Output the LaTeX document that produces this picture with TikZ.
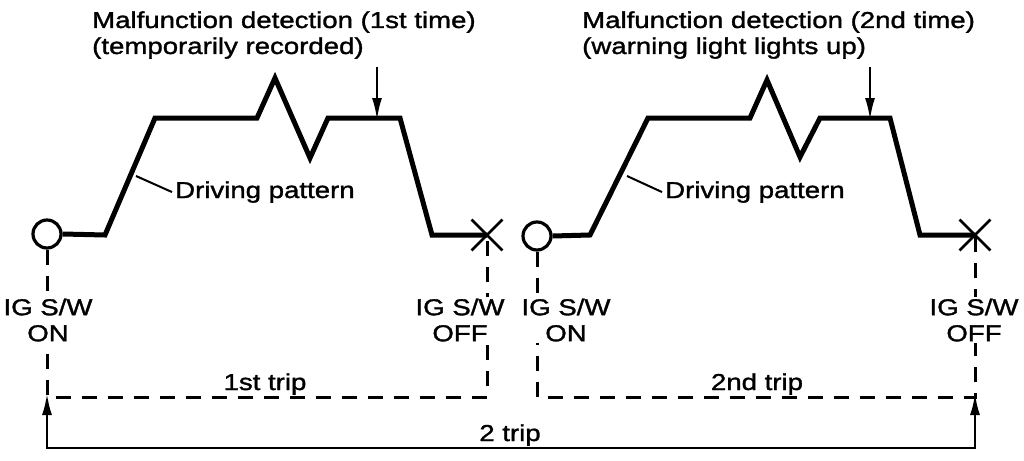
\documentclass[tikz,border=0pt]{standalone}
\usepackage{fontspec}
\setmainfont[FakeStretch=1.2,FakeBold=1.4]{Liberation Sans}
\usetikzlibrary{arrows.meta,shapes.misc}

\begin{document}
\begin{tikzpicture}[x=1pt,y=-1pt, >={Latex[length=22pt,width=10pt]},
  lbl/.style={font=\fontsize{23}{26}\selectfont, inner sep=0pt, align=center},
  patt/.style={line width=5pt, line join=miter},
  swon/.style={circle, draw, line width=3.2pt, minimum size=28pt, inner sep=0pt},
  swoff/.style={cross out, draw, line width=2.8pt, minimum size=28pt, inner sep=0pt},
  tripline/.style={line width=3pt, dash pattern=on 15pt off 11pt},
  detect/.style={->, line width=2.5pt},
  lead/.style={line width=2pt}]
  \useasboundingbox (0,0) rectangle (1024,460);

  % Switch points
  \node[swon]  (on1)  at (47,234)  {};
  \node[swoff] (off1) at (487,235) {};
  \node[swon]  (on2)  at (537,236) {};
  \node[swoff] (off2) at (975,235) {};

  % 1st driving pattern
  \coordinate (p1a) at (105,235);
  \coordinate (p1b) at (155,118);
  \coordinate (p1c) at (257,118);
  \coordinate (p1d) at (275,78);
  \coordinate (p1e) at (310,158);
  \coordinate (p1f) at (328,118);
  \coordinate (p1g) at (400,118);
  \coordinate (p1h) at (432,235);
  \draw[patt] (on1.east) -- (p1a) -- (p1b) -- (p1c) -- (p1d) -- (p1e)
    -- (p1f) -- (p1g) -- (p1h) -- (off1.center);

  % 2nd driving pattern
  \coordinate (p2a) at (590,235);
  \coordinate (p2b) at (648,118);
  \coordinate (p2c) at (750,118);
  \coordinate (p2d) at (767,80);
  \coordinate (p2e) at (800,157);
  \coordinate (p2f) at (820,118);
  \coordinate (p2g) at (890,118);
  \coordinate (p2h) at (920,235);
  \draw[patt] (on2.east) -- (p2a) -- (p2b) -- (p2c) -- (p2d) -- (p2e)
    -- (p2f) -- (p2g) -- (p2h) -- (off2.center);

  % Malfunction detection
  \node[lbl, align=left, anchor=base west] (det1) at (92,54)
    {Malfunction detection (1st time)\\(temporarily recorded)};
  \node[lbl, align=left, anchor=base west] (det2) at (582,54)
    {Malfunction detection (2nd time)\\(warning light lights up)};
  \coordinate (d1top) at (377,67);
  \coordinate (d2top) at (870,67);
  \draw[detect] (d1top) -- ([yshift=-2pt]d1top |- p1g);
  \draw[detect] (d2top) -- ([yshift=-2pt]d2top |- p2g);

  % Driving pattern labels
  \node[lbl, anchor=base west] (drv1) at (175,198) {Driving pattern};
  \node[lbl, anchor=base west] (drv2) at (665,198) {Driving pattern};
  \coordinate (lk1) at (136,176);
  \coordinate (lk2) at (627,176);
  \draw[lead] (lk1) -- ([xshift=-3pt]drv1.west);
  \draw[lead] (lk2) -- ([xshift=-3pt]drv2.west);

  % Trips
  \coordinate (t1a) at (47,397);
  \coordinate (t1b) at (487,397);
  \coordinate (t2a) at (537,397);
  \coordinate (t2b) at (975,397);
  \draw[tripline] (on1.south) -- (t1a) -- (t1b) -- (off1.center);
  \draw[tripline] (on2.south) -- (t2a) -- (t2b) -- (off2.center);

  % Switch labels
  \node[lbl, fill=white, inner sep=2pt] (onlbl1)  at (48,320)  {IG S/W\\ON};
  \node[lbl, fill=white, inner sep=2pt] (offlbl1) at (460,320) {IG S/W\\OFF};
  \node[lbl, fill=white, inner sep=2pt] (onlbl2)  at (566,320) {IG S/W\\ON};
  \node[lbl, fill=white, inner sep=2pt] (offlbl2) at (974,320) {IG S/W\\OFF};
  \node[lbl, anchor=base] (trip1) at (265,390) {1st trip};
  \node[lbl, anchor=base] (trip2) at (757,390) {2nd trip};

  % Whole span
  \coordinate (b1) at (47,448);
  \coordinate (b2) at (975,448);
  \draw[<->, line width=2.8pt]
    ([yshift=4pt]t1a) -- (b1) -- (b2) -- ([yshift=4pt]t2b);
  \node[lbl, anchor=base] (both) at (510,441) {2 trip};
\end{tikzpicture}
\end{document}
